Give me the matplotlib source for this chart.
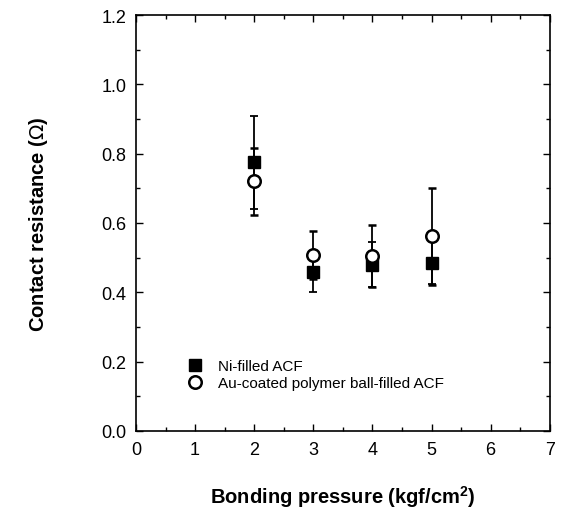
import matplotlib
matplotlib.use("Agg")
import matplotlib.pyplot as plt
from matplotlib.ticker import MultipleLocator
from matplotlib.lines import Line2D

plt.rcParams['font.family'] = ['Liberation Sans', 'DejaVu Sans']

pressure = [2, 3, 4, 5]
ni_res = [0.775, 0.460, 0.480, 0.485]
ni_err = [0.135, 0.058, 0.065, 0.062]
au_res = [0.720, 0.507, 0.504, 0.562]
au_err = [0.097, 0.070, 0.090, 0.140]

fig = plt.figure(figsize=(5.61, 5.10), dpi=100)
ax = fig.add_axes([0.2424, 0.153, 0.7376, 0.8156])

ax.errorbar(pressure, ni_res, yerr=ni_err, fmt='s', color='black', ms=8.5,
            ecolor='black', elinewidth=1.3, capsize=3, capthick=1.3,
            label='Ni-filled ACF', zorder=3)
ax.errorbar(pressure, au_res, yerr=au_err, fmt='o', color='black', ms=9,
            mfc='white', mec='black', mew=1.8,
            ecolor='black', elinewidth=1.3, capsize=3, capthick=1.3,
            label='Au-coated polymer ball-filled ACF', zorder=4)

ax.set_xlim(0, 7)
ax.set_ylim(0.0, 1.2)
ax.xaxis.set_major_locator(MultipleLocator(1))
ax.xaxis.set_minor_locator(MultipleLocator(0.5))
ax.yaxis.set_major_locator(MultipleLocator(0.2))
ax.yaxis.set_minor_locator(MultipleLocator(0.1))
ax.yaxis.set_major_formatter(plt.FuncFormatter(lambda v, p: f"{v:.1f}"))
ax.tick_params(which='both', direction='in', top=True, right=True, width=1.0)
ax.tick_params(which='major', length=5, labelsize=13, pad=7)
ax.tick_params(which='minor', length=3)
for s in ax.spines.values():
    s.set_linewidth(1.2)

ax.set_xlabel('Bonding pressure (kgf/cm$^\\mathregular{2}$)', fontsize=14.5,
              fontweight='bold', va='top')
ax.xaxis.set_label_coords(0.5, -0.125)
ax.set_ylabel('Contact resistance ($\\Omega$)', fontsize=14.5,
              fontweight='bold')
ax.yaxis.set_label_coords(-0.208, 0.5)

labels = ['Ni-filled ACF', 'Au-coated polymer ball-filled ACF']
handles = [Line2D([], [], marker='s', ls='', color='black', ms=8.5),
           Line2D([], [], marker='o', ls='', mfc='white', mec='black', ms=9, mew=1.8)]
ax.legend(handles, labels, loc='lower left', bbox_to_anchor=(0.09, 0.065),
          frameon=False, fontsize=11, handletextpad=1.0, labelspacing=0.2,
          handlelength=1.0)

fig.savefig('out.png', dpi=100)
